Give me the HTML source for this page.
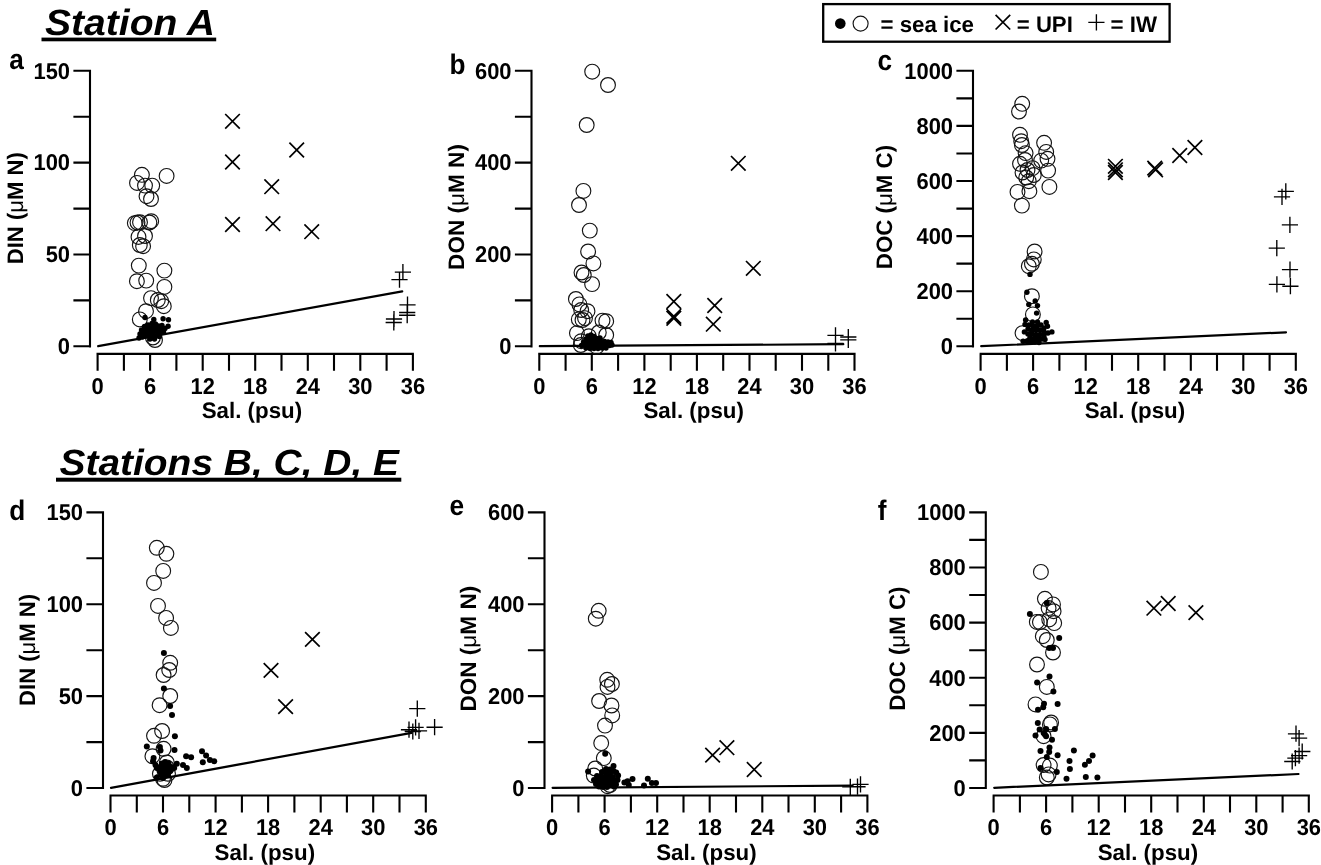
<!DOCTYPE html>
<html lang="en"><head><meta charset="utf-8"><title>Sea ice DIN DON DOC vs salinity</title>
<style>html,body{margin:0;padding:0;background:#fff}svg{display:block;will-change:transform}text{font-family:"Liberation Sans",Arial,Helvetica,sans-serif;font-weight:bold;fill:#000;text-rendering:geometricPrecision}.ax{stroke:#000;stroke-width:2.1;fill:none;stroke-linecap:butt}.ln{stroke:#000;stroke-width:2.2;fill:none;stroke-linecap:round}.oc{stroke:#141414;stroke-width:1.15;fill:none}.fd{fill:#000;stroke:none}.xm{stroke:#000;stroke-width:1.7;fill:none}.pm{stroke:#000;stroke-width:1.35;fill:none}.tl{font-size:22.8px}.al{font-size:22.4px}.pl{font-size:28.2px}.tt{font-size:36.5px;font-style:italic}.mu{font-weight:normal}</style></head><body>
<svg width="1321" height="865" viewBox="0 0 1321 865">
<rect width="1321" height="865" fill="#fff"/>
<text class="tt" x="45" y="35.2" textLength="170" lengthAdjust="spacingAndGlyphs">Station A</text>
<rect x="41.5" y="37.6" width="174.7" height="3.7" fill="#000"/>
<text class="tt" x="59.5" y="475.2" textLength="339.5" lengthAdjust="spacingAndGlyphs">Stations B, C, D, E</text>
<rect x="56" y="477.7" width="345.3" height="4.0" fill="#000"/>
<rect x="823.2" y="4.1" width="346.4" height="37.6" fill="#fff" stroke="#000" stroke-width="2.3"/>
<circle class="fd" cx="840.3" cy="23.6" r="5.3"/>
<circle class="oc" cx="860.6" cy="23.6" r="7.5"/>
<text class="al" x="880.5" y="31.6" textLength="93.5" lengthAdjust="spacingAndGlyphs">= sea ice</text>
<path class="xm" d="M995.6 14.9L1010.2 29.5M1010.2 14.9L995.6 29.5"/>
<text class="al" x="1016.8" y="31.6" textLength="56" lengthAdjust="spacingAndGlyphs">= UPI</text>
<path class="pm" d="M1088.3 22.4H1104.5M1096.4 14.3V30.5"/>
<text class="al" x="1110.5" y="31.6" textLength="46.5" lengthAdjust="spacingAndGlyphs">= IW</text>
<g id="panel-a">
<path class="ax" d="M90 69.8V347.4M73.4 346.3H90M73.4 300.4H90M73.4 254.5H90M73.4 208.6H90M73.4 162.6H90M73.4 116.7H90M73.4 70.8H90M96.5 353.9H413.9M97.6 353.9V370.7M123.9 353.9V370.7M150.1 353.9V370.7M176.4 353.9V370.7M202.7 353.9V370.7M229 353.9V370.7M255.2 353.9V370.7M281.5 353.9V370.7M307.8 353.9V370.7M334 353.9V370.7M360.3 353.9V370.7M386.6 353.9V370.7M412.9 353.9V370.7"/>
<text class="tl" transform="translate(70 354.1) scale(0.96 1)" text-anchor="end">0</text>
<text class="tl" transform="translate(70 262.2) scale(0.96 1)" text-anchor="end">50</text>
<text class="tl" transform="translate(70 170.4) scale(0.96 1)" text-anchor="end">100</text>
<text class="tl" transform="translate(70 78.6) scale(0.96 1)" text-anchor="end">150</text>
<text class="tl" transform="translate(97.6 393.5) scale(0.96 1)" text-anchor="middle">0</text>
<text class="tl" transform="translate(150.1 393.5) scale(0.96 1)" text-anchor="middle">6</text>
<text class="tl" transform="translate(202.7 393.5) scale(0.96 1)" text-anchor="middle">12</text>
<text class="tl" transform="translate(255.2 393.5) scale(0.96 1)" text-anchor="middle">18</text>
<text class="tl" transform="translate(307.8 393.5) scale(0.96 1)" text-anchor="middle">24</text>
<text class="tl" transform="translate(360.3 393.5) scale(0.96 1)" text-anchor="middle">30</text>
<text class="tl" transform="translate(412.9 393.5) scale(0.96 1)" text-anchor="middle">36</text>
<text class="al" x="201.7" y="418.2" textLength="100.5" lengthAdjust="spacingAndGlyphs">Sal. (psu)</text>
<text class="al" transform="translate(23 264.2) rotate(-90)" textLength="112.0" lengthAdjust="spacingAndGlyphs">DIN (<tspan class="mu">μ</tspan>M N)</text>
<text class="pl" transform="translate(9.3 69.4) scale(0.93 1)">a</text>
<circle class="oc" cx="141.9" cy="174.8" r="7.4"/>
<circle class="oc" cx="166.6" cy="175.9" r="7.4"/>
<circle class="oc" cx="137" cy="182.9" r="7.4"/>
<circle class="oc" cx="145" cy="185.6" r="7.4"/>
<circle class="oc" cx="152.2" cy="185.6" r="7.4"/>
<circle class="oc" cx="146.5" cy="196.2" r="7.4"/>
<circle class="oc" cx="151" cy="199" r="7.4"/>
<circle class="oc" cx="134.8" cy="223.1" r="7.4"/>
<circle class="oc" cx="137.5" cy="222.5" r="7.4"/>
<circle class="oc" cx="140" cy="222.2" r="7.4"/>
<circle class="oc" cx="149.4" cy="222.5" r="7.4"/>
<circle class="oc" cx="151.2" cy="221.2" r="7.4"/>
<circle class="oc" cx="138.5" cy="236.9" r="7.4"/>
<circle class="oc" cx="145" cy="236" r="7.4"/>
<circle class="oc" cx="139.8" cy="245" r="7.4"/>
<circle class="oc" cx="143.1" cy="246.2" r="7.4"/>
<circle class="oc" cx="138.8" cy="265.6" r="7.4"/>
<circle class="oc" cx="164.4" cy="270.6" r="7.4"/>
<circle class="oc" cx="136.9" cy="281.2" r="7.4"/>
<circle class="oc" cx="146.2" cy="280.6" r="7.4"/>
<circle class="oc" cx="164.4" cy="286.9" r="7.4"/>
<circle class="oc" cx="151" cy="298.1" r="7.4"/>
<circle class="oc" cx="157.8" cy="300" r="7.4"/>
<circle class="oc" cx="161.2" cy="301.2" r="7.4"/>
<circle class="oc" cx="163.8" cy="306.2" r="7.4"/>
<circle class="oc" cx="146" cy="311.2" r="7.4"/>
<circle class="oc" cx="139.8" cy="319.4" r="7.4"/>
<circle class="oc" cx="152.9" cy="337.5" r="7.4"/>
<circle class="oc" cx="155" cy="340" r="7.4"/>
<path class="ln" d="M98.2 346.2L402.2 291.3"/>
<circle class="fd" cx="145" cy="317.5" r="2.7"/>
<circle class="fd" cx="153.8" cy="319.4" r="2.7"/>
<circle class="fd" cx="163.1" cy="318.8" r="2.7"/>
<circle class="fd" cx="168.5" cy="319.8" r="2.7"/>
<circle class="fd" cx="168.1" cy="326.2" r="2.7"/>
<circle class="fd" cx="152" cy="323.5" r="2.7"/>
<circle class="fd" cx="155.5" cy="324" r="2.7"/>
<circle class="fd" cx="148" cy="325" r="2.7"/>
<circle class="fd" cx="144.5" cy="326.5" r="2.7"/>
<circle class="fd" cx="158.5" cy="326" r="2.7"/>
<circle class="fd" cx="162" cy="325.5" r="2.7"/>
<circle class="fd" cx="165" cy="328.5" r="2.7"/>
<circle class="fd" cx="141.5" cy="330" r="2.7"/>
<circle class="fd" cx="145" cy="329.5" r="2.7"/>
<circle class="fd" cx="148.5" cy="328.5" r="2.7"/>
<circle class="fd" cx="152" cy="327.5" r="2.7"/>
<circle class="fd" cx="155.5" cy="328" r="2.7"/>
<circle class="fd" cx="159" cy="329" r="2.7"/>
<circle class="fd" cx="162" cy="330" r="2.7"/>
<circle class="fd" cx="140" cy="334" r="2.7"/>
<circle class="fd" cx="143.5" cy="333" r="2.7"/>
<circle class="fd" cx="147" cy="332" r="2.7"/>
<circle class="fd" cx="150.5" cy="331.5" r="2.7"/>
<circle class="fd" cx="154" cy="331.5" r="2.7"/>
<circle class="fd" cx="157.5" cy="332" r="2.7"/>
<circle class="fd" cx="160.5" cy="333" r="2.7"/>
<circle class="fd" cx="163.5" cy="332" r="2.7"/>
<circle class="fd" cx="139" cy="338" r="2.7"/>
<circle class="fd" cx="142.5" cy="337" r="2.7"/>
<circle class="fd" cx="146" cy="336" r="2.7"/>
<circle class="fd" cx="149.5" cy="335.5" r="2.7"/>
<circle class="fd" cx="153" cy="335.5" r="2.7"/>
<circle class="fd" cx="156.5" cy="336" r="2.7"/>
<circle class="fd" cx="159.5" cy="336.5" r="2.7"/>
<circle class="fd" cx="150" cy="339" r="2.7"/>
<circle class="fd" cx="154.5" cy="339" r="2.7"/>
<path class="xm" d="M225.2 114l14.6 14.6m0 -14.6l-14.6 14.6M225.2 154.7l14.6 14.6m0 -14.6l-14.6 14.6M289.4 142.7l14.6 14.6m0 -14.6l-14.6 14.6M264.4 179.4l14.6 14.6m0 -14.6l-14.6 14.6M225.2 217.2l14.6 14.6m0 -14.6l-14.6 14.6M265.7 216.4l14.6 14.6m0 -14.6l-14.6 14.6M304.4 224.4l14.6 14.6m0 -14.6l-14.6 14.6"/>
<path class="pm" d="M394.8 272.1h16.2M402.9 264v16.2M391.4 279.6h16.2M399.5 271.5v16.2M399.4 304.8h16.2M407.5 296.6v16.2M399.1 312.5h16.2M407.2 304.4v16.2M399.1 315.2h16.2M407.2 307.1v16.2M385.9 319h16.2M394 310.9v16.2M385.6 322.5h16.2M393.8 314.4v16.2"/>
</g>
<g id="panel-b">
<path class="ax" d="M531.5 69.8V347.4M514.9 346.3H531.5M514.9 300.4H531.5M514.9 254.5H531.5M514.9 208.6H531.5M514.9 162.6H531.5M514.9 116.7H531.5M514.9 70.8H531.5M538.2 353.9H855.6M539.3 353.9V370.7M565.6 353.9V370.7M591.8 353.9V370.7M618.1 353.9V370.7M644.4 353.9V370.7M670.7 353.9V370.7M696.9 353.9V370.7M723.2 353.9V370.7M749.5 353.9V370.7M775.7 353.9V370.7M802 353.9V370.7M828.3 353.9V370.7M854.5 353.9V370.7"/>
<text class="tl" transform="translate(511.5 354.1) scale(0.96 1)" text-anchor="end">0</text>
<text class="tl" transform="translate(511.5 262.2) scale(0.96 1)" text-anchor="end">200</text>
<text class="tl" transform="translate(511.5 170.4) scale(0.96 1)" text-anchor="end">400</text>
<text class="tl" transform="translate(511.5 78.6) scale(0.96 1)" text-anchor="end">600</text>
<text class="tl" transform="translate(539.3 393.5) scale(0.96 1)" text-anchor="middle">0</text>
<text class="tl" transform="translate(591.8 393.5) scale(0.96 1)" text-anchor="middle">6</text>
<text class="tl" transform="translate(644.4 393.5) scale(0.96 1)" text-anchor="middle">12</text>
<text class="tl" transform="translate(696.9 393.5) scale(0.96 1)" text-anchor="middle">18</text>
<text class="tl" transform="translate(749.5 393.5) scale(0.96 1)" text-anchor="middle">24</text>
<text class="tl" transform="translate(802 393.5) scale(0.96 1)" text-anchor="middle">30</text>
<text class="tl" transform="translate(854.5 393.5) scale(0.96 1)" text-anchor="middle">36</text>
<text class="al" x="643.4" y="418.2" textLength="100.5" lengthAdjust="spacingAndGlyphs">Sal. (psu)</text>
<text class="al" transform="translate(463.9 269.9) rotate(-90)" textLength="125.8" lengthAdjust="spacingAndGlyphs">DON (<tspan class="mu">μ</tspan>M N)</text>
<text class="pl" transform="translate(449.5 73.6) scale(0.93 1)">b</text>
<circle class="oc" cx="592.2" cy="71.7" r="7.4"/>
<circle class="oc" cx="608" cy="85" r="7.4"/>
<circle class="oc" cx="586.7" cy="125" r="7.4"/>
<circle class="oc" cx="583.4" cy="190.9" r="7.4"/>
<circle class="oc" cx="579" cy="205" r="7.4"/>
<circle class="oc" cx="589.8" cy="230.6" r="7.4"/>
<circle class="oc" cx="588.1" cy="251.5" r="7.4"/>
<circle class="oc" cx="593.4" cy="263.4" r="7.4"/>
<circle class="oc" cx="581.5" cy="272.5" r="7.4"/>
<circle class="oc" cx="583.8" cy="275" r="7.4"/>
<circle class="oc" cx="592.1" cy="284.1" r="7.4"/>
<circle class="oc" cx="575.9" cy="299" r="7.4"/>
<circle class="oc" cx="579.4" cy="304.4" r="7.4"/>
<circle class="oc" cx="581.2" cy="310" r="7.4"/>
<circle class="oc" cx="587.5" cy="311.2" r="7.4"/>
<circle class="oc" cx="578.8" cy="319.4" r="7.4"/>
<circle class="oc" cx="582.5" cy="320" r="7.4"/>
<circle class="oc" cx="585" cy="318.1" r="7.4"/>
<circle class="oc" cx="602.5" cy="320.6" r="7.4"/>
<circle class="oc" cx="606.2" cy="321.2" r="7.4"/>
<circle class="oc" cx="576.9" cy="333.1" r="7.4"/>
<circle class="oc" cx="606.2" cy="335" r="7.4"/>
<circle class="oc" cx="581.2" cy="341.2" r="7.4"/>
<circle class="oc" cx="588.8" cy="336.2" r="7.4"/>
<circle class="oc" cx="598.8" cy="332.5" r="7.4"/>
<circle class="oc" cx="580.8" cy="345" r="7.4"/>
<circle class="oc" cx="596.7" cy="346.7" r="7.4"/>
<path class="ln" d="M539.8 346.2L843.3 344.2"/>
<circle class="fd" cx="588" cy="336" r="2.7"/>
<circle class="fd" cx="591" cy="335" r="2.7"/>
<circle class="fd" cx="594" cy="336.5" r="2.7"/>
<circle class="fd" cx="586" cy="339" r="2.7"/>
<circle class="fd" cx="589.5" cy="339" r="2.7"/>
<circle class="fd" cx="593" cy="339.5" r="2.7"/>
<circle class="fd" cx="596.5" cy="338.5" r="2.7"/>
<circle class="fd" cx="600" cy="338" r="2.7"/>
<circle class="fd" cx="583.5" cy="342" r="2.7"/>
<circle class="fd" cx="587" cy="342.5" r="2.7"/>
<circle class="fd" cx="590.5" cy="342.5" r="2.7"/>
<circle class="fd" cx="594" cy="342.5" r="2.7"/>
<circle class="fd" cx="597.5" cy="342" r="2.7"/>
<circle class="fd" cx="601" cy="341.5" r="2.7"/>
<circle class="fd" cx="604.5" cy="341.5" r="2.7"/>
<circle class="fd" cx="608" cy="342" r="2.7"/>
<circle class="fd" cx="611" cy="342.5" r="2.7"/>
<circle class="fd" cx="581.5" cy="345.5" r="2.7"/>
<circle class="fd" cx="585" cy="345.5" r="2.7"/>
<circle class="fd" cx="588.5" cy="346" r="2.7"/>
<circle class="fd" cx="592" cy="346" r="2.7"/>
<circle class="fd" cx="595.5" cy="346" r="2.7"/>
<circle class="fd" cx="599" cy="345.5" r="2.7"/>
<circle class="fd" cx="602.5" cy="345" r="2.7"/>
<circle class="fd" cx="606" cy="345" r="2.7"/>
<circle class="fd" cx="609.5" cy="345.5" r="2.7"/>
<circle class="fd" cx="612" cy="345" r="2.7"/>
<circle class="fd" cx="586" cy="348" r="2.7"/>
<circle class="fd" cx="590" cy="348.5" r="2.7"/>
<circle class="fd" cx="594" cy="348.5" r="2.7"/>
<circle class="fd" cx="598" cy="348.5" r="2.7"/>
<circle class="fd" cx="602" cy="348" r="2.7"/>
<circle class="fd" cx="606" cy="348" r="2.7"/>
<path class="xm" d="M731 156l14.6 14.6m0 -14.6l-14.6 14.6M746 261l14.6 14.6m0 -14.6l-14.6 14.6M666.5 294.2l14.6 14.6m0 -14.6l-14.6 14.6M666.5 309l14.6 14.6m0 -14.6l-14.6 14.6M666.5 311l14.6 14.6m0 -14.6l-14.6 14.6M707.4 298.2l14.6 14.6m0 -14.6l-14.6 14.6M706 316.9l14.6 14.6m0 -14.6l-14.6 14.6"/>
<path class="pm" d="M827.4 335.3h16.2M835.5 327.2v16.2M827.4 343.3h16.2M835.5 335.2v16.2M840.2 337h16.2M848.3 328.9v16.2M840.2 339.9h16.2M848.3 331.8v16.2"/>
</g>
<g id="panel-c">
<path class="ax" d="M973 69.8V347.4M956.4 346.3H973M956.4 318.8H973M956.4 291.2H973M956.4 263.6H973M956.4 236.1H973M956.4 208.6H973M956.4 181H973M956.4 153.5H973M956.4 125.9H973M956.4 98.4H973M956.4 70.8H973M979.6 353.9H1296.9M980.6 353.9V370.7M1006.9 353.9V370.7M1033.1 353.9V370.7M1059.4 353.9V370.7M1085.7 353.9V370.7M1112 353.9V370.7M1138.2 353.9V370.7M1164.5 353.9V370.7M1190.8 353.9V370.7M1217 353.9V370.7M1243.3 353.9V370.7M1269.6 353.9V370.7M1295.8 353.9V370.7"/>
<text class="tl" transform="translate(953 354.1) scale(0.96 1)" text-anchor="end">0</text>
<text class="tl" transform="translate(953 298.9) scale(0.96 1)" text-anchor="end">200</text>
<text class="tl" transform="translate(953 243.9) scale(0.96 1)" text-anchor="end">400</text>
<text class="tl" transform="translate(953 188.8) scale(0.96 1)" text-anchor="end">600</text>
<text class="tl" transform="translate(953 133.7) scale(0.96 1)" text-anchor="end">800</text>
<text class="tl" transform="translate(953 78.6) scale(0.96 1)" text-anchor="end">1000</text>
<text class="tl" transform="translate(980.6 393.5) scale(0.96 1)" text-anchor="middle">0</text>
<text class="tl" transform="translate(1033.1 393.5) scale(0.96 1)" text-anchor="middle">6</text>
<text class="tl" transform="translate(1085.7 393.5) scale(0.96 1)" text-anchor="middle">12</text>
<text class="tl" transform="translate(1138.2 393.5) scale(0.96 1)" text-anchor="middle">18</text>
<text class="tl" transform="translate(1190.8 393.5) scale(0.96 1)" text-anchor="middle">24</text>
<text class="tl" transform="translate(1243.3 393.5) scale(0.96 1)" text-anchor="middle">30</text>
<text class="tl" transform="translate(1295.8 393.5) scale(0.96 1)" text-anchor="middle">36</text>
<text class="al" x="1084.7" y="418.2" textLength="100.5" lengthAdjust="spacingAndGlyphs">Sal. (psu)</text>
<text class="al" transform="translate(892.3 269.2) rotate(-90)" textLength="124.3" lengthAdjust="spacingAndGlyphs">DOC (<tspan class="mu">μ</tspan>M C)</text>
<text class="pl" transform="translate(877.5 69.6) scale(0.93 1)">c</text>
<circle class="oc" cx="1022.2" cy="103.8" r="7.4"/>
<circle class="oc" cx="1019" cy="111.5" r="7.4"/>
<circle class="oc" cx="1020" cy="134.8" r="7.4"/>
<circle class="oc" cx="1021.2" cy="141.2" r="7.4"/>
<circle class="oc" cx="1021.9" cy="145" r="7.4"/>
<circle class="oc" cx="1044.1" cy="142.8" r="7.4"/>
<circle class="oc" cx="1025.6" cy="153.1" r="7.4"/>
<circle class="oc" cx="1046.2" cy="151.9" r="7.4"/>
<circle class="oc" cx="1047.5" cy="158.8" r="7.4"/>
<circle class="oc" cx="1025" cy="160" r="7.4"/>
<circle class="oc" cx="1020" cy="163.8" r="7.4"/>
<circle class="oc" cx="1041.2" cy="160.6" r="7.4"/>
<circle class="oc" cx="1022.5" cy="172.5" r="7.4"/>
<circle class="oc" cx="1027.5" cy="170" r="7.4"/>
<circle class="oc" cx="1032.5" cy="168.1" r="7.4"/>
<circle class="oc" cx="1033.8" cy="175" r="7.4"/>
<circle class="oc" cx="1048.1" cy="170.6" r="7.4"/>
<circle class="oc" cx="1026.2" cy="177.5" r="7.4"/>
<circle class="oc" cx="1028.8" cy="181.2" r="7.4"/>
<circle class="oc" cx="1049.4" cy="186.9" r="7.4"/>
<circle class="oc" cx="1017.5" cy="191.9" r="7.4"/>
<circle class="oc" cx="1029.4" cy="191.2" r="7.4"/>
<circle class="oc" cx="1021.9" cy="205.6" r="7.4"/>
<circle class="oc" cx="1034.6" cy="251.5" r="7.4"/>
<circle class="oc" cx="1033.8" cy="259.4" r="7.4"/>
<circle class="oc" cx="1031.9" cy="263.8" r="7.4"/>
<circle class="oc" cx="1028.8" cy="266.2" r="7.4"/>
<circle class="oc" cx="1031.9" cy="296.2" r="7.4"/>
<circle class="oc" cx="1032.9" cy="314.4" r="7.4"/>
<circle class="oc" cx="1022.5" cy="333.1" r="7.4"/>
<path class="ln" d="M981.2 346.2L1286 332.3"/>
<circle class="fd" cx="1030" cy="274.4" r="2.7"/>
<circle class="fd" cx="1026.9" cy="292.2" r="2.7"/>
<circle class="fd" cx="1035.2" cy="301" r="2.7"/>
<circle class="fd" cx="1028.8" cy="304.4" r="2.7"/>
<circle class="fd" cx="1037.5" cy="305.6" r="2.7"/>
<circle class="fd" cx="1036.6" cy="313.1" r="2.7"/>
<circle class="fd" cx="1025.6" cy="320" r="2.7"/>
<circle class="fd" cx="1025" cy="324.4" r="2.7"/>
<circle class="fd" cx="1032.5" cy="321.9" r="2.7"/>
<circle class="fd" cx="1037.5" cy="322" r="2.7"/>
<circle class="fd" cx="1046.2" cy="322.5" r="2.7"/>
<circle class="fd" cx="1047.5" cy="326.2" r="2.7"/>
<circle class="fd" cx="1051.9" cy="331.9" r="2.7"/>
<circle class="fd" cx="1024.4" cy="331.9" r="2.7"/>
<circle class="fd" cx="1023.1" cy="341.2" r="2.7"/>
<circle class="fd" cx="1045" cy="339.4" r="2.7"/>
<circle class="fd" cx="1029" cy="325" r="2.7"/>
<circle class="fd" cx="1033" cy="326" r="2.7"/>
<circle class="fd" cx="1037" cy="326" r="2.7"/>
<circle class="fd" cx="1041" cy="325" r="2.7"/>
<circle class="fd" cx="1044" cy="328" r="2.7"/>
<circle class="fd" cx="1028" cy="329" r="2.7"/>
<circle class="fd" cx="1032" cy="330" r="2.7"/>
<circle class="fd" cx="1036" cy="330" r="2.7"/>
<circle class="fd" cx="1040" cy="330" r="2.7"/>
<circle class="fd" cx="1044" cy="332" r="2.7"/>
<circle class="fd" cx="1048" cy="333" r="2.7"/>
<circle class="fd" cx="1028" cy="334" r="2.7"/>
<circle class="fd" cx="1032" cy="334" r="2.7"/>
<circle class="fd" cx="1036" cy="334.5" r="2.7"/>
<circle class="fd" cx="1040" cy="334.5" r="2.7"/>
<circle class="fd" cx="1044" cy="336" r="2.7"/>
<circle class="fd" cx="1030" cy="338" r="2.7"/>
<circle class="fd" cx="1034" cy="338.5" r="2.7"/>
<circle class="fd" cx="1038" cy="338.5" r="2.7"/>
<circle class="fd" cx="1042" cy="339" r="2.7"/>
<circle class="fd" cx="1027" cy="341" r="2.7"/>
<circle class="fd" cx="1031" cy="342" r="2.7"/>
<circle class="fd" cx="1035" cy="342" r="2.7"/>
<circle class="fd" cx="1039" cy="342.5" r="2.7"/>
<path class="xm" d="M1108.1 159l14.6 14.6m0 -14.6l-14.6 14.6M1108.1 162.5l14.6 14.6m0 -14.6l-14.6 14.6M1108.1 165.2l14.6 14.6m0 -14.6l-14.6 14.6M1147.4 160.8l14.6 14.6m0 -14.6l-14.6 14.6M1148.3 162.5l14.6 14.6m0 -14.6l-14.6 14.6M1172.4 148.2l14.6 14.6m0 -14.6l-14.6 14.6M1187.6 140.2l14.6 14.6m0 -14.6l-14.6 14.6"/>
<path class="pm" d="M1277.7 191.3h16.2M1285.8 183.2v16.2M1273.9 196.9h16.2M1282 188.8v16.2M1281.8 224.9h16.2M1289.9 216.8v16.2M1268.7 248.1h16.2M1276.8 240v16.2M1281.9 269.6h16.2M1290 261.5v16.2M1268.8 284.4h16.2M1276.9 276.3v16.2M1282.3 286.2h16.2M1290.4 278.1v16.2"/>
</g>
<g id="panel-d">
<path class="ax" d="M103 511.3V789M86.4 788H103M86.4 742.1H103M86.4 696.1H103M86.4 650.2H103M86.4 604.2H103M86.4 558.3H103M86.4 512.4H103M109.5 795.5H426.8M110.5 795.5V812.5M136.8 795.5V812.5M163 795.5V812.5M189.3 795.5V812.5M215.6 795.5V812.5M241.9 795.5V812.5M268.1 795.5V812.5M294.4 795.5V812.5M320.7 795.5V812.5M346.9 795.5V812.5M373.2 795.5V812.5M399.5 795.5V812.5M425.8 795.5V812.5"/>
<text class="tl" transform="translate(83 795.8) scale(0.96 1)" text-anchor="end">0</text>
<text class="tl" transform="translate(83 703.9) scale(0.96 1)" text-anchor="end">50</text>
<text class="tl" transform="translate(83 612) scale(0.96 1)" text-anchor="end">100</text>
<text class="tl" transform="translate(83 520.1) scale(0.96 1)" text-anchor="end">150</text>
<text class="tl" transform="translate(110.5 835.1) scale(0.96 1)" text-anchor="middle">0</text>
<text class="tl" transform="translate(163 835.1) scale(0.96 1)" text-anchor="middle">6</text>
<text class="tl" transform="translate(215.6 835.1) scale(0.96 1)" text-anchor="middle">12</text>
<text class="tl" transform="translate(268.1 835.1) scale(0.96 1)" text-anchor="middle">18</text>
<text class="tl" transform="translate(320.7 835.1) scale(0.96 1)" text-anchor="middle">24</text>
<text class="tl" transform="translate(373.2 835.1) scale(0.96 1)" text-anchor="middle">30</text>
<text class="tl" transform="translate(425.8 835.1) scale(0.96 1)" text-anchor="middle">36</text>
<text class="al" x="214.6" y="860" textLength="100.5" lengthAdjust="spacingAndGlyphs">Sal. (psu)</text>
<text class="al" transform="translate(34.7 705.9) rotate(-90)" textLength="112.0" lengthAdjust="spacingAndGlyphs">DIN (<tspan class="mu">μ</tspan>M N)</text>
<text class="pl" transform="translate(9.3 520.2) scale(0.93 1)">d</text>
<circle class="oc" cx="156.8" cy="547.8" r="7.4"/>
<circle class="oc" cx="166.4" cy="553.8" r="7.4"/>
<circle class="oc" cx="163.2" cy="570.9" r="7.4"/>
<circle class="oc" cx="154" cy="582.9" r="7.4"/>
<circle class="oc" cx="158" cy="605.9" r="7.4"/>
<circle class="oc" cx="166.1" cy="617.9" r="7.4"/>
<circle class="oc" cx="170.9" cy="627.9" r="7.4"/>
<circle class="oc" cx="170.2" cy="662.8" r="7.4"/>
<circle class="oc" cx="169.2" cy="670" r="7.4"/>
<circle class="oc" cx="163.6" cy="675" r="7.4"/>
<circle class="oc" cx="170.2" cy="696" r="7.4"/>
<circle class="oc" cx="159.6" cy="705.2" r="7.4"/>
<circle class="oc" cx="162.1" cy="731" r="7.4"/>
<circle class="oc" cx="154" cy="735.8" r="7.4"/>
<circle class="oc" cx="163.6" cy="748.8" r="7.4"/>
<circle class="oc" cx="152.4" cy="756.2" r="7.4"/>
<circle class="oc" cx="166.8" cy="762.5" r="7.4"/>
<circle class="oc" cx="166.8" cy="767.5" r="7.4"/>
<circle class="oc" cx="159.9" cy="773.8" r="7.4"/>
<circle class="oc" cx="168" cy="773.8" r="7.4"/>
<circle class="oc" cx="163" cy="778.8" r="7.4"/>
<circle class="oc" cx="164.5" cy="780" r="7.4"/>
<path class="ln" d="M111 787.8L411.5 732.8"/>
<circle class="fd" cx="163.9" cy="652.9" r="3.0"/>
<circle class="fd" cx="163.9" cy="688.4" r="3.0"/>
<circle class="fd" cx="170.1" cy="705.9" r="3.0"/>
<circle class="fd" cx="172" cy="715" r="3.0"/>
<circle class="fd" cx="174.9" cy="736.2" r="3.0"/>
<circle class="fd" cx="146.8" cy="746.6" r="3.0"/>
<circle class="fd" cx="159.9" cy="746.9" r="3.0"/>
<circle class="fd" cx="160.5" cy="750.6" r="3.0"/>
<circle class="fd" cx="174.5" cy="750" r="3.0"/>
<circle class="fd" cx="202" cy="751.2" r="3.0"/>
<circle class="fd" cx="206.1" cy="755.6" r="3.0"/>
<circle class="fd" cx="209.9" cy="760" r="3.0"/>
<circle class="fd" cx="214.2" cy="761.2" r="3.0"/>
<circle class="fd" cx="202.8" cy="762.2" r="3.0"/>
<circle class="fd" cx="186.1" cy="756.2" r="3.0"/>
<circle class="fd" cx="191.1" cy="757.2" r="3.0"/>
<circle class="fd" cx="183" cy="765" r="3.0"/>
<circle class="fd" cx="186.8" cy="767.9" r="3.0"/>
<circle class="fd" cx="153.6" cy="758.1" r="3.0"/>
<circle class="fd" cx="153" cy="761.2" r="3.0"/>
<circle class="fd" cx="155.5" cy="765" r="3.0"/>
<circle class="fd" cx="176.8" cy="763.8" r="3.0"/>
<circle class="fd" cx="156.8" cy="768.1" r="3.0"/>
<circle class="fd" cx="174.2" cy="768.1" r="3.0"/>
<circle class="fd" cx="156.8" cy="777.5" r="3.0"/>
<circle class="fd" cx="162" cy="763.5" r="3.0"/>
<circle class="fd" cx="165" cy="762" r="3.0"/>
<circle class="fd" cx="168.5" cy="763.5" r="3.0"/>
<circle class="fd" cx="160" cy="767" r="3.0"/>
<circle class="fd" cx="164" cy="766" r="3.0"/>
<circle class="fd" cx="168" cy="766.5" r="3.0"/>
<circle class="fd" cx="171.5" cy="767" r="3.0"/>
<circle class="fd" cx="159.5" cy="771" r="3.0"/>
<circle class="fd" cx="163" cy="770.5" r="3.0"/>
<circle class="fd" cx="166.5" cy="770.5" r="3.0"/>
<circle class="fd" cx="170" cy="771" r="3.0"/>
<circle class="fd" cx="161" cy="775" r="3.0"/>
<circle class="fd" cx="164.5" cy="774.5" r="3.0"/>
<circle class="fd" cx="168" cy="774.5" r="3.0"/>
<circle class="fd" cx="163" cy="778" r="3.0"/>
<path class="xm" d="M305.1 632.1l14.6 14.6m0 -14.6l-14.6 14.6M263.7 663.1l14.6 14.6m0 -14.6l-14.6 14.6M278.3 699.3l14.6 14.6m0 -14.6l-14.6 14.6"/>
<path class="pm" d="M409.2 708.6h16.2M417.3 700.5v16.2M426.5 727.2h16.2M434.6 719.1v16.2M400.9 729.7h16.2M409 721.6v16.2M404.7 731.5h16.2M412.8 723.4v16.2M407.5 727.3h16.2M415.6 719.2v16.2M410.9 730.8h16.2M419 722.7v16.2"/>
</g>
<g id="panel-e">
<path class="ax" d="M544.5 511.3V789M527.9 788H544.5M527.9 742.1H544.5M527.9 696.1H544.5M527.9 650.2H544.5M527.9 604.2H544.5M527.9 558.3H544.5M527.9 512.4H544.5M551.1 795.5H868.4M552.1 795.5V812.5M578.4 795.5V812.5M604.6 795.5V812.5M630.9 795.5V812.5M657.2 795.5V812.5M683.5 795.5V812.5M709.7 795.5V812.5M736 795.5V812.5M762.3 795.5V812.5M788.5 795.5V812.5M814.8 795.5V812.5M841.1 795.5V812.5M867.4 795.5V812.5"/>
<text class="tl" transform="translate(524.5 795.8) scale(0.96 1)" text-anchor="end">0</text>
<text class="tl" transform="translate(524.5 703.9) scale(0.96 1)" text-anchor="end">200</text>
<text class="tl" transform="translate(524.5 612) scale(0.96 1)" text-anchor="end">400</text>
<text class="tl" transform="translate(524.5 520.1) scale(0.96 1)" text-anchor="end">600</text>
<text class="tl" transform="translate(552.1 835.1) scale(0.96 1)" text-anchor="middle">0</text>
<text class="tl" transform="translate(604.6 835.1) scale(0.96 1)" text-anchor="middle">6</text>
<text class="tl" transform="translate(657.2 835.1) scale(0.96 1)" text-anchor="middle">12</text>
<text class="tl" transform="translate(709.7 835.1) scale(0.96 1)" text-anchor="middle">18</text>
<text class="tl" transform="translate(762.3 835.1) scale(0.96 1)" text-anchor="middle">24</text>
<text class="tl" transform="translate(814.8 835.1) scale(0.96 1)" text-anchor="middle">30</text>
<text class="tl" transform="translate(867.4 835.1) scale(0.96 1)" text-anchor="middle">36</text>
<text class="al" x="656.2" y="860" textLength="100.5" lengthAdjust="spacingAndGlyphs">Sal. (psu)</text>
<text class="al" transform="translate(476.3 711.6) rotate(-90)" textLength="125.8" lengthAdjust="spacingAndGlyphs">DON (<tspan class="mu">μ</tspan>M N)</text>
<text class="pl" transform="translate(449.5 514.8) scale(0.93 1)">e</text>
<circle class="oc" cx="598.7" cy="610.8" r="7.4"/>
<circle class="oc" cx="595.8" cy="618.7" r="7.4"/>
<circle class="oc" cx="607.2" cy="679.8" r="7.4"/>
<circle class="oc" cx="611.9" cy="684" r="7.4"/>
<circle class="oc" cx="607.5" cy="686.9" r="7.4"/>
<circle class="oc" cx="599.1" cy="701" r="7.4"/>
<circle class="oc" cx="611.5" cy="705.5" r="7.4"/>
<circle class="oc" cx="612.2" cy="715.4" r="7.4"/>
<circle class="oc" cx="605" cy="725.6" r="7.4"/>
<circle class="oc" cx="601.2" cy="743.1" r="7.4"/>
<circle class="oc" cx="603.8" cy="758.1" r="7.4"/>
<circle class="oc" cx="595.2" cy="768.5" r="7.4"/>
<circle class="oc" cx="593.8" cy="775.6" r="7.4"/>
<circle class="oc" cx="607.5" cy="786.2" r="7.4"/>
<circle class="oc" cx="610" cy="785" r="7.4"/>
<path class="ln" d="M552.6 787.8L852.6 785.6"/>
<circle class="fd" cx="605.2" cy="753.8" r="3.0"/>
<circle class="fd" cx="588.1" cy="771.5" r="3.0"/>
<circle class="fd" cx="613.5" cy="766" r="3.0"/>
<circle class="fd" cx="616.2" cy="772.5" r="3.0"/>
<circle class="fd" cx="618.1" cy="775.6" r="3.0"/>
<circle class="fd" cx="632.5" cy="779.1" r="3.0"/>
<circle class="fd" cx="627.5" cy="781.2" r="3.0"/>
<circle class="fd" cx="624.4" cy="782.5" r="3.0"/>
<circle class="fd" cx="628.8" cy="785" r="3.0"/>
<circle class="fd" cx="647.8" cy="778.8" r="3.0"/>
<circle class="fd" cx="651.9" cy="783.1" r="3.0"/>
<circle class="fd" cx="656" cy="783.1" r="3.0"/>
<circle class="fd" cx="644" cy="785.4" r="3.0"/>
<circle class="fd" cx="606" cy="769" r="3.0"/>
<circle class="fd" cx="610" cy="769.5" r="3.0"/>
<circle class="fd" cx="602" cy="772" r="3.0"/>
<circle class="fd" cx="606" cy="773" r="3.0"/>
<circle class="fd" cx="610" cy="773.5" r="3.0"/>
<circle class="fd" cx="613.5" cy="771" r="3.0"/>
<circle class="fd" cx="597" cy="776" r="3.0"/>
<circle class="fd" cx="601" cy="776" r="3.0"/>
<circle class="fd" cx="605" cy="777" r="3.0"/>
<circle class="fd" cx="609" cy="777.5" r="3.0"/>
<circle class="fd" cx="613" cy="777" r="3.0"/>
<circle class="fd" cx="594" cy="780" r="3.0"/>
<circle class="fd" cx="598" cy="780.5" r="3.0"/>
<circle class="fd" cx="602" cy="780.5" r="3.0"/>
<circle class="fd" cx="606" cy="781" r="3.0"/>
<circle class="fd" cx="610" cy="781.5" r="3.0"/>
<circle class="fd" cx="614" cy="781" r="3.0"/>
<circle class="fd" cx="617.5" cy="780" r="3.0"/>
<circle class="fd" cx="596" cy="784" r="3.0"/>
<circle class="fd" cx="600" cy="784.5" r="3.0"/>
<circle class="fd" cx="604" cy="785" r="3.0"/>
<circle class="fd" cx="608" cy="785" r="3.0"/>
<circle class="fd" cx="612" cy="785" r="3.0"/>
<circle class="fd" cx="616" cy="784.5" r="3.0"/>
<circle class="fd" cx="599" cy="786.5" r="3.0"/>
<circle class="fd" cx="603" cy="787" r="3.0"/>
<circle class="fd" cx="607" cy="787" r="3.0"/>
<circle class="fd" cx="614" cy="786.5" r="3.0"/>
<path class="xm" d="M705.3 747.8l14.6 14.6m0 -14.6l-14.6 14.6M719.6 740.4l14.6 14.6m0 -14.6l-14.6 14.6M746.9 762.2l14.6 14.6m0 -14.6l-14.6 14.6"/>
<path class="pm" d="M842.2 786.8h16.2M850.3 778.7v16.2M849.4 786.7h16.2M857.5 778.6v16.2M852.4 784.4h16.2M860.5 776.3v16.2"/>
</g>
<g id="panel-f">
<path class="ax" d="M985.8 511.3V789M969.2 788H985.8M969.2 760.4H985.8M969.2 732.9H985.8M969.2 705.3H985.8M969.2 677.7H985.8M969.2 650.2H985.8M969.2 622.6H985.8M969.2 595H985.8M969.2 567.5H985.8M969.2 539.9H985.8M969.2 512.4H985.8M992.6 795.5H1309.9M993.6 795.5V812.5M1019.9 795.5V812.5M1046.1 795.5V812.5M1072.4 795.5V812.5M1098.7 795.5V812.5M1125 795.5V812.5M1151.2 795.5V812.5M1177.5 795.5V812.5M1203.8 795.5V812.5M1230 795.5V812.5M1256.3 795.5V812.5M1282.6 795.5V812.5M1308.8 795.5V812.5"/>
<text class="tl" transform="translate(965.8 795.8) scale(0.96 1)" text-anchor="end">0</text>
<text class="tl" transform="translate(965.8 740.6) scale(0.96 1)" text-anchor="end">200</text>
<text class="tl" transform="translate(965.8 685.5) scale(0.96 1)" text-anchor="end">400</text>
<text class="tl" transform="translate(965.8 630.4) scale(0.96 1)" text-anchor="end">600</text>
<text class="tl" transform="translate(965.8 575.2) scale(0.96 1)" text-anchor="end">800</text>
<text class="tl" transform="translate(965.8 520.1) scale(0.96 1)" text-anchor="end">1000</text>
<text class="tl" transform="translate(993.6 835.1) scale(0.96 1)" text-anchor="middle">0</text>
<text class="tl" transform="translate(1046.1 835.1) scale(0.96 1)" text-anchor="middle">6</text>
<text class="tl" transform="translate(1098.7 835.1) scale(0.96 1)" text-anchor="middle">12</text>
<text class="tl" transform="translate(1151.2 835.1) scale(0.96 1)" text-anchor="middle">18</text>
<text class="tl" transform="translate(1203.8 835.1) scale(0.96 1)" text-anchor="middle">24</text>
<text class="tl" transform="translate(1256.3 835.1) scale(0.96 1)" text-anchor="middle">30</text>
<text class="tl" transform="translate(1308.8 835.1) scale(0.96 1)" text-anchor="middle">36</text>
<text class="al" x="1097.7" y="860" textLength="100.5" lengthAdjust="spacingAndGlyphs">Sal. (psu)</text>
<text class="al" transform="translate(905.1 710.8) rotate(-90)" textLength="124.3" lengthAdjust="spacingAndGlyphs">DOC (<tspan class="mu">μ</tspan>M C)</text>
<text class="pl" transform="translate(877.7 520.2) scale(0.93 1)">f</text>
<circle class="oc" cx="1040.9" cy="571.9" r="7.4"/>
<circle class="oc" cx="1044.9" cy="598.8" r="7.4"/>
<circle class="oc" cx="1053" cy="604.4" r="7.4"/>
<circle class="oc" cx="1048.6" cy="608.1" r="7.4"/>
<circle class="oc" cx="1053.6" cy="611.2" r="7.4"/>
<circle class="oc" cx="1049.2" cy="619.4" r="7.4"/>
<circle class="oc" cx="1054.2" cy="623.1" r="7.4"/>
<circle class="oc" cx="1036.8" cy="621.9" r="7.4"/>
<circle class="oc" cx="1039.9" cy="622.1" r="7.4"/>
<circle class="oc" cx="1042.8" cy="636.2" r="7.4"/>
<circle class="oc" cx="1046.8" cy="640" r="7.4"/>
<circle class="oc" cx="1053" cy="652.5" r="7.4"/>
<circle class="oc" cx="1037" cy="664.5" r="7.4"/>
<circle class="oc" cx="1046.8" cy="686.9" r="7.4"/>
<circle class="oc" cx="1035.5" cy="704.4" r="7.4"/>
<circle class="oc" cx="1051.1" cy="722.5" r="7.4"/>
<circle class="oc" cx="1049.9" cy="724.4" r="7.4"/>
<circle class="oc" cx="1043.6" cy="736.2" r="7.4"/>
<circle class="oc" cx="1043.6" cy="765" r="7.4"/>
<circle class="oc" cx="1049.9" cy="765.6" r="7.4"/>
<circle class="oc" cx="1048.6" cy="774.4" r="7.4"/>
<circle class="oc" cx="1046.8" cy="777.5" r="7.4"/>
<path class="ln" d="M994.2 787.8L1298.5 774"/>
<circle class="fd" cx="1029.9" cy="614" r="3.0"/>
<circle class="fd" cx="1046.8" cy="603.1" r="3.0"/>
<circle class="fd" cx="1059.2" cy="637.9" r="3.0"/>
<circle class="fd" cx="1049.2" cy="647.9" r="3.0"/>
<circle class="fd" cx="1053" cy="647.9" r="3.0"/>
<circle class="fd" cx="1049.5" cy="676.6" r="3.0"/>
<circle class="fd" cx="1037.1" cy="682.5" r="3.0"/>
<circle class="fd" cx="1053.4" cy="691.5" r="3.0"/>
<circle class="fd" cx="1044" cy="703.8" r="3.0"/>
<circle class="fd" cx="1043.2" cy="707.2" r="3.0"/>
<circle class="fd" cx="1038" cy="709.8" r="3.0"/>
<circle class="fd" cx="1057.6" cy="704" r="3.0"/>
<circle class="fd" cx="1037.8" cy="723" r="3.0"/>
<circle class="fd" cx="1039.6" cy="729.5" r="3.0"/>
<circle class="fd" cx="1046.1" cy="728.9" r="3.0"/>
<circle class="fd" cx="1054.9" cy="728.9" r="3.0"/>
<circle class="fd" cx="1035.5" cy="735.5" r="3.0"/>
<circle class="fd" cx="1043.6" cy="733.1" r="3.0"/>
<circle class="fd" cx="1044.9" cy="734.4" r="3.0"/>
<circle class="fd" cx="1046.1" cy="736.2" r="3.0"/>
<circle class="fd" cx="1052" cy="739.8" r="3.0"/>
<circle class="fd" cx="1049.5" cy="747.5" r="3.0"/>
<circle class="fd" cx="1040.5" cy="751" r="3.0"/>
<circle class="fd" cx="1049.2" cy="751.9" r="3.0"/>
<circle class="fd" cx="1046.8" cy="756.9" r="3.0"/>
<circle class="fd" cx="1057.6" cy="755.2" r="3.0"/>
<circle class="fd" cx="1073.9" cy="750.4" r="3.0"/>
<circle class="fd" cx="1092.6" cy="755.6" r="3.0"/>
<circle class="fd" cx="1089" cy="761" r="3.0"/>
<circle class="fd" cx="1084.9" cy="764.8" r="3.0"/>
<circle class="fd" cx="1069.5" cy="761" r="3.0"/>
<circle class="fd" cx="1069.9" cy="769" r="3.0"/>
<circle class="fd" cx="1040.5" cy="768.1" r="3.0"/>
<circle class="fd" cx="1056.8" cy="771.9" r="3.0"/>
<circle class="fd" cx="1066.5" cy="778.8" r="3.0"/>
<circle class="fd" cx="1085.8" cy="776.9" r="3.0"/>
<circle class="fd" cx="1097.4" cy="777.5" r="3.0"/>
<path class="xm" d="M1146.6 600.9l14.6 14.6m0 -14.6l-14.6 14.6M1160.9 596.2l14.6 14.6m0 -14.6l-14.6 14.6M1188.6 605.3l14.6 14.6m0 -14.6l-14.6 14.6"/>
<path class="pm" d="M1287.9 733.8h16.2M1296 725.6v16.2M1291 738.1h16.2M1299.1 730v16.2M1294.2 751.5h16.2M1302.2 743.4v16.2M1291 755.6h16.2M1299.1 747.5v16.2M1287.3 758.1h16.2M1295.4 750v16.2M1284.2 761.5h16.2M1292.2 753.4v16.2"/>
</g>
</svg></body></html>
